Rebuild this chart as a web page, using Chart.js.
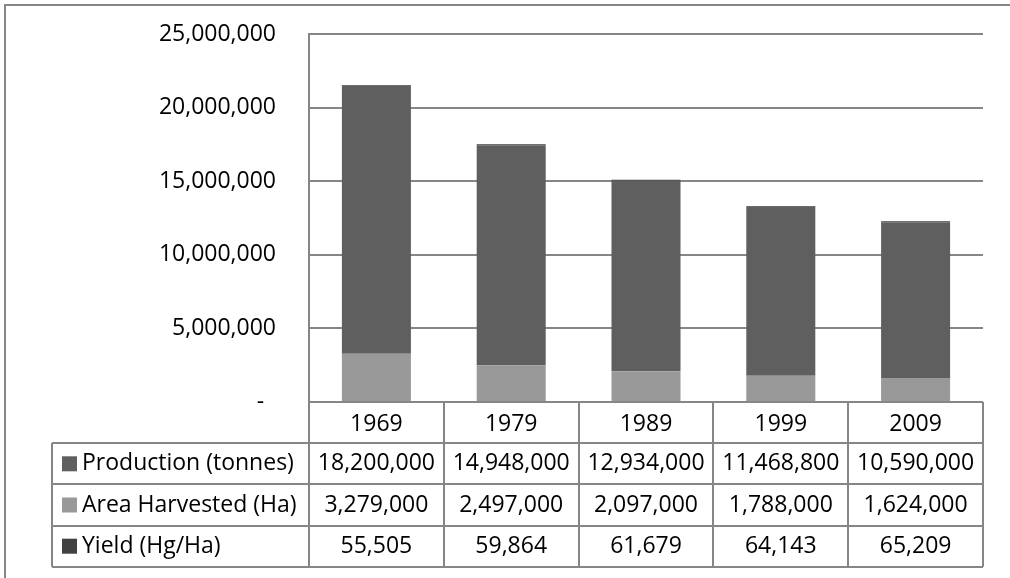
<!DOCTYPE html>
<html>
<head>
<meta charset="utf-8">
<script src="https://cdn.jsdelivr.net/npm/chart.js@4.4.1/dist/chart.umd.min.js"></script>
<style>
  html, body { margin: 0; padding: 0; background: #fff; }
  #wrap { width: 1010px; height: 578px; position: relative; }
</style>
</head>
<body>
<div id="wrap"><canvas id="chart"></canvas></div>
<script>
const years = ['1969', '1979', '1989', '1999', '2009'];
const production = [18200000, 14948000, 12934000, 11468800, 10590000];
const areaHarvested = [3279000, 2497000, 2097000, 1788000, 1624000];
const yieldHgHa = [55505, 59864, 61679, 64143, 65209];
const yMax = 25000000;
const yStep = 5000000;

const FONT = '"Open Sans", Lato, sans-serif';
const FONT_SIZE = 23;
const LINE = '#868686';
const ROW_H = 41.2;
const TABLE_LEFT = 52;

// rows of the data table, top to bottom
const series = [
  { label: 'Production (tonnes)', data: production, color: '#5f5f5f' },
  { label: 'Area Harvested (Ha)', data: areaHarvested, color: '#999999' },
  { label: 'Yield (Hg/Ha)', data: yieldHgHa, color: '#404040' }
];
// stacking order, bottom up
const stackOrder = [1, 0, 2];

function fmt(v) {
  return Number(v).toLocaleString('en-US');
}

const outerFrame = {
  id: 'outerFrame',
  beforeDraw(chart) {
    const ctx = chart.ctx;
    ctx.save();
    ctx.fillStyle = '#fff';
    ctx.fillRect(0, 0, chart.width, chart.height);
    ctx.strokeStyle = LINE;
    ctx.lineWidth = 2;
    ctx.strokeRect(5, 5, chart.width + 20, chart.height + 20);
    ctx.restore();
  }
};

const dataTable = {
  id: 'dataTable',
  afterDraw(chart) {
    const ctx = chart.ctx;
    const x = chart.scales.x;
    const area = chart.chartArea;
    const top = area.bottom;
    const step = x.getPixelForValue(1) - x.getPixelForValue(0);
    const edges = years.map((_, i) => x.getPixelForValue(i) - step / 2);
    edges.push(area.right);
    const bottom = top + ROW_H * (series.length + 1);

    ctx.save();
    ctx.strokeStyle = LINE;
    ctx.lineWidth = 2;
    ctx.beginPath();
    ctx.moveTo(area.left, top);
    ctx.lineTo(area.right, top);
    for (let r = 1; r <= series.length + 1; r++) {
      const y = Math.round(top + ROW_H * r);
      ctx.moveTo(TABLE_LEFT, y);
      ctx.lineTo(area.right, y);
    }
    edges.forEach(e => {
      ctx.moveTo(Math.round(e), top);
      ctx.lineTo(Math.round(e), bottom);
    });
    ctx.moveTo(TABLE_LEFT, Math.round(top + ROW_H));
    ctx.lineTo(TABLE_LEFT, bottom);
    ctx.stroke();

    ctx.font = FONT_SIZE + 'px ' + FONT;
    ctx.fillStyle = '#000';
    ctx.textBaseline = 'middle';
    series.forEach((s, r) => {
      const yMid = top + ROW_H * (r + 1.5);
      ctx.fillStyle = s.color;
      ctx.fillRect(62, yMid - 7.5, 15, 15);
      ctx.fillStyle = '#000';
      ctx.textAlign = 'left';
      ctx.fillText(s.label, 82, yMid);
      ctx.textAlign = 'center';
      s.data.forEach((v, i) => {
        ctx.fillText(fmt(v), x.getPixelForValue(i), yMid);
      });
    });
    ctx.restore();
  }
};

new Chart(document.getElementById('chart'), {
  type: 'bar',
  data: {
    labels: years,
    datasets: stackOrder.map(k => ({
      label: series[k].label,
      data: series[k].data,
      backgroundColor: series[k].color,
      borderWidth: 0,
      categoryPercentage: 1,
      barPercentage: 0.512
    }))
  },
  options: {
    responsive: true,
    maintainAspectRatio: false,
    animation: false,
    layout: { padding: { top: 34, right: 27, bottom: 11, left: 0 } },
    plugins: {
      legend: { display: false },
      tooltip: { enabled: false }
    },
    scales: {
      x: {
        stacked: true,
        grid: { display: false },
        border: { display: false },
        ticks: {
          color: '#000',
          font: { family: FONT, size: FONT_SIZE },
          padding: 1,
          maxRotation: 0
        },
        afterFit(s) { s.height = 165; }
      },
      y: {
        stacked: true,
        min: 0,
        max: yMax,
        grid: { color: LINE, lineWidth: 2, drawTicks: false },
        border: { display: true, color: LINE, width: 2 },
        ticks: {
          stepSize: yStep,
          color: '#000',
          padding: 33,
          font: { family: FONT, size: FONT_SIZE },
          callback: v => (v === 0 ? '-  ' : fmt(v))
        },
        afterFit(s) {
          s.width = 309;
          // the label padding would otherwise push the plot top down
          s.paddingTop = 0;
          s.paddingBottom = 0;
        }
      }
    }
  },
  plugins: [outerFrame, dataTable]
});
</script>
</body>
</html>
